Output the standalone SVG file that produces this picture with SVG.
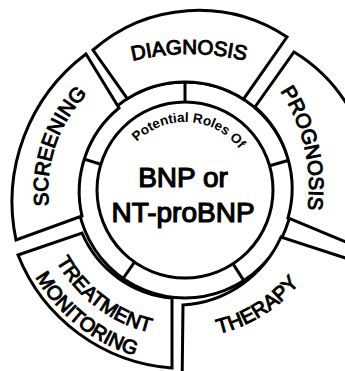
<svg xmlns="http://www.w3.org/2000/svg" width="345" height="371" viewBox="0 0 345 371">
  <style>
    .ln { fill: none; stroke: #000; stroke-width: 3; stroke-linejoin: miter; }
    .box { fill: #fff; stroke: #000; stroke-width: 3; stroke-linejoin: miter; }
    .lbl { font-family: "Liberation Sans", Arial, sans-serif; font-size: 20.5px; fill: #000; stroke: #000; stroke-width: 1; }
    .lbl2 { font-family: "Liberation Sans", Arial, sans-serif; font-size: 20px; fill: #000; stroke: #000; stroke-width: 1; }
    .core { font-family: "Liberation Sans", Arial, sans-serif; font-size: 28px; fill: #000; stroke: #000; stroke-width: 1.2; text-anchor: middle; }
    .sub { font-family: "Liberation Sans", Arial, sans-serif; font-size: 13.5px; font-weight: bold; fill: #000; }
  </style>
  <defs>
    <path id="p-diag" d="M 110 67.4 A 240 240 0 0 1 268 67.4"/>
    <path id="p-scr" d="M 66.4 258.5 A 137 137 0 0 1 133.7 63"/>
    <path id="p-prog" d="M 185.9 20.6 A 174 174 0 0 1 253.7 314.3"/>
    <path id="p-ther" d="M 134.4 329.1 A 149 149 0 0 0 332.2 205.5"/>
    <path id="p-treat" d="M 38 191.3 A 146 146 0 0 0 222.1 331.3"/>
    <path id="p-mon" d="M 12 189.1 A 173 173 0 0 0 226 358"/>
    <path id="p-roles" d="M 126.1 156 A 68 68 0 0 1 248.05 164.5"/>
  </defs>
  <rect width="345" height="371" fill="#fff"/>

  <!-- central hub and its surrounding ring -->
  <g id="hub">
    <circle class="ln" cx="185" cy="190" r="108"/>
    <circle class="ln" cx="185" cy="190" r="88"/>
    <text class="sub"><textPath href="#p-roles" startOffset="50%" text-anchor="middle">Potential Roles Of</textPath></text>
    <text class="core" x="183" y="187">BNP or</text>
    <text class="core" x="183" y="222">NT-proBNP</text>
  </g>

  <!-- spokes dividing the ring -->
  <g id="connectors" class="ln">
    <line x1="185" y1="102" x2="185" y2="82"/>
    <line x1="269.6" y1="165.7" x2="288.8" y2="160.2"/>
    <line x1="233" y1="263.8" x2="243.8" y2="280.6"/>
    <line x1="134.5" y1="262.1" x2="123.1" y2="278.5"/>
    <line x1="100.8" y1="164.3" x2="81.7" y2="158.4"/>
  </g>

  <g id="screening">
    <path class="box" d="M 86 54 L 119 108 A 108 108 0 0 0 82 216 L 16 240 A 185 185 0 0 1 86 54 Z"/>
    <text class="lbl"><textPath href="#p-scr" startOffset="50%" text-anchor="middle">SCREENING</textPath></text>
  </g>

  <g id="diagnosis">
    <path class="box" d="M 93 50 A 160 160 0 0 1 287 37 L 243.5 99.2 A 108 108 0 0 0 127.3 98.7 Z"/>
    <text class="lbl"><textPath href="#p-diag" startOffset="50%" text-anchor="middle">DIAGNOSIS</textPath></text>
  </g>

  <g id="prognosis">
    <path class="box" d="M 294 52 A 160 160 0 0 1 370 170 L 370 252 L 288 218 A 108 108 0 0 0 255 107 Z"/>
    <text class="lbl"><textPath href="#p-prog" startOffset="50%" text-anchor="middle">PROGNOSIS</textPath></text>
  </g>

  <g id="therapy">
    <path class="box" d="M 183 305 A 115 115 0 0 0 281 237 L 370 266 L 370 390 L 182 390 Z"/>
    <text class="lbl"><textPath href="#p-ther" startOffset="50%" text-anchor="middle">THERAPY</textPath></text>
  </g>

  <g id="treatment-monitoring">
    <path class="box" d="M 18 255 L 82 233 A 108 108 0 0 0 172 298 L 172 368 A 180 180 0 0 1 18 255 Z"/>
    <text class="lbl2"><textPath href="#p-treat" startOffset="50%" text-anchor="middle">TREATMENT</textPath></text>
    <text class="lbl2"><textPath href="#p-mon" startOffset="50%" text-anchor="middle">MONITORING</textPath></text>
  </g>
</svg>
